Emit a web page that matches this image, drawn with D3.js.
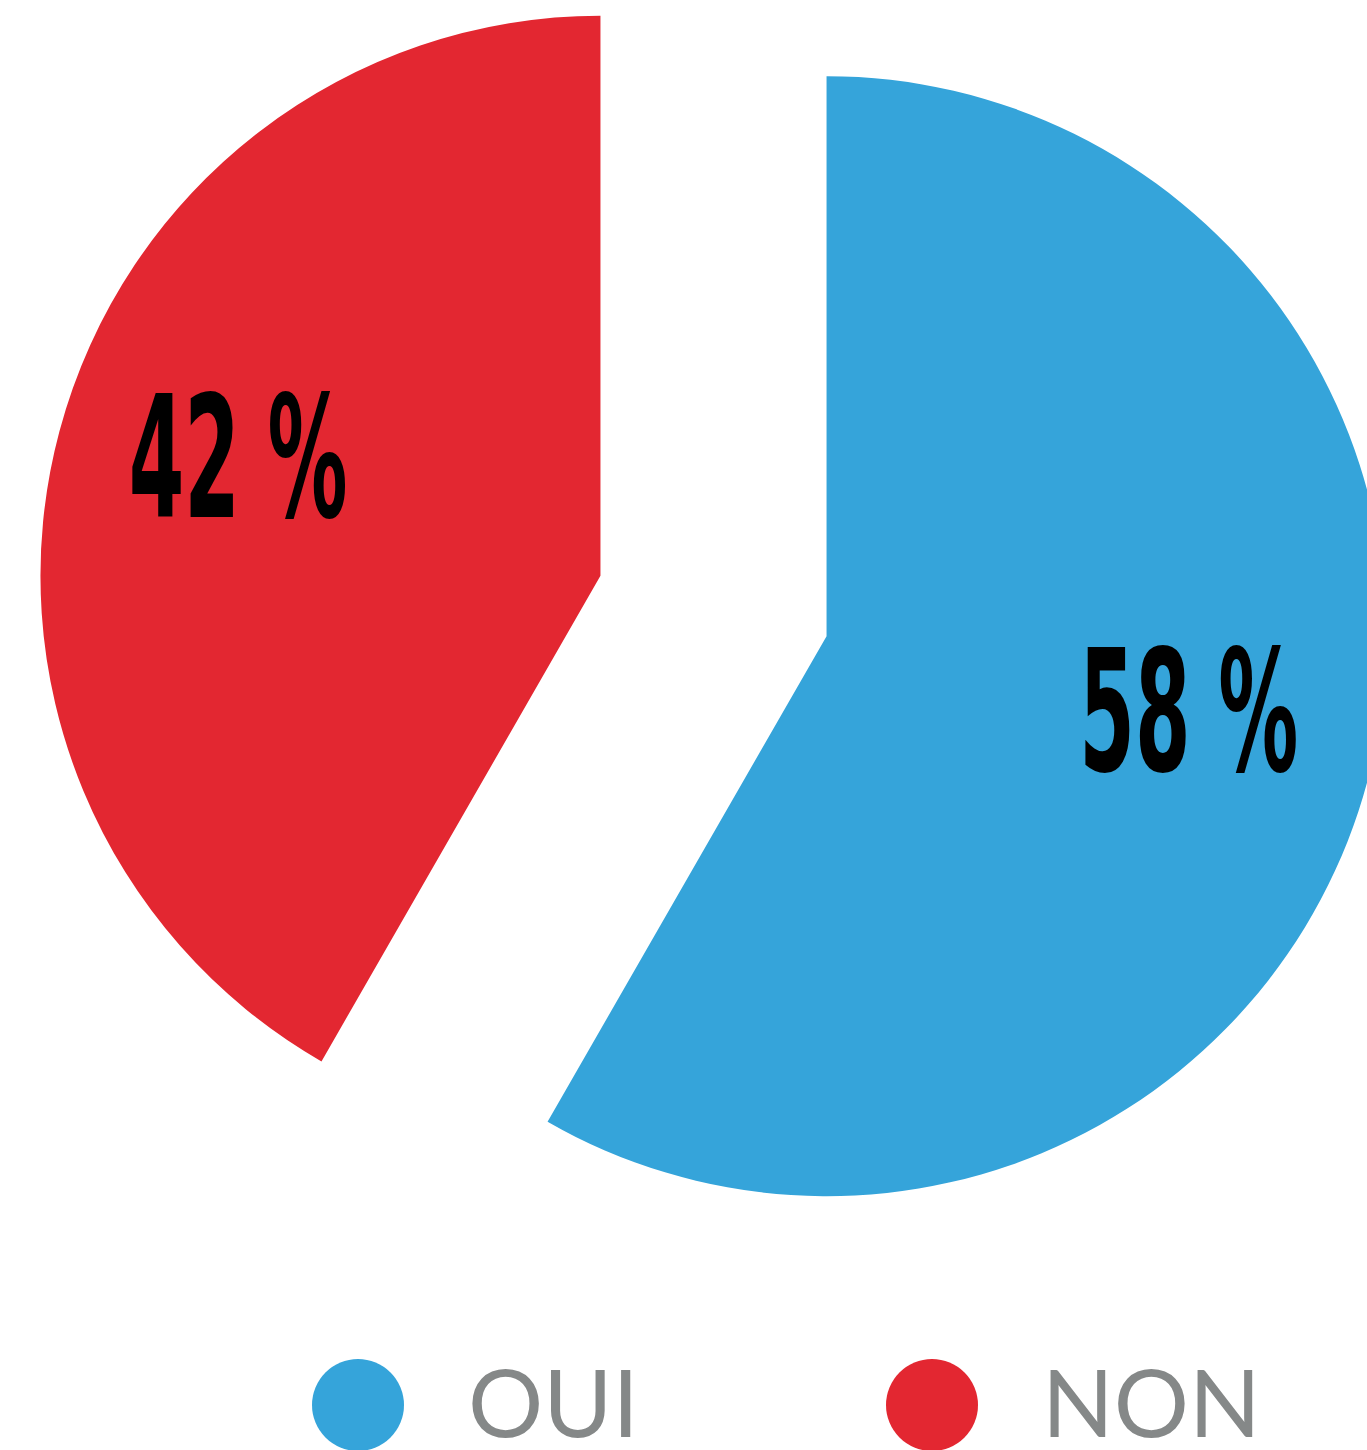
<!DOCTYPE html>
<html>
<head>
<meta charset="utf-8">
<script src="https://cdn.jsdelivr.net/npm/d3@7"></script>
<style>
  body { margin: 0; background: #fff; }
  .label { font-family: "DejaVu Sans Condensed", "Liberation Sans Narrow", sans-serif; font-weight: bold; }
  .legend text { font-family: Lato, "Open Sans", sans-serif; fill: #858888; }
</style>
</head>
<body>
<div class="container"></div>
<script>
var categories = ['OUI', 'NON'];
var values = [58.3, 41.7];
var colors = ['#35a4da', '#e32731'];

const WIDTH = 1367;
const HEIGHT = 1450;
const CX = 713.5;
const CY = 606;
const RADIUS = 560;
const EXPLODE = 117;

var translate = (x, y) => (`translate(${x}, ${y})`);

var svg = d3.select('.container').append('svg')
    .attr('width', WIDTH)
    .attr('height', HEIGHT);

var pie = d3.pie().sort(null).value(d => d);
var arcs = pie(values);

var arc = d3.arc().innerRadius(0).outerRadius(RADIUS);
var labelArc = d3.arc().innerRadius(375).outerRadius(375);

var offset = function (d) {
    let a = (d.startAngle + d.endAngle) / 2;
    return [EXPLODE * Math.sin(a), -EXPLODE * Math.cos(a)];
};

var g = svg.append('g')
    .attr('transform', translate(CX, CY));

var slices = g.selectAll('g.slice')
    .data(arcs)
    .enter().append('g')
    .attr('class', 'slice')
    .attr('transform', d => translate(offset(d)[0], offset(d)[1]));

slices.append('path')
    .attr('d', arc)
    .attr('fill', (d, i) => colors[i]);

slices.append('text')
    .attr('class', 'label')
    .attr('x', d => labelArc.centroid(d)[0])
    .attr('y', d => labelArc.centroid(d)[1] + 38)
    .attr('text-anchor', 'middle')
    .attr('font-size', 170)
    .attr('textLength', 219)
    .attr('lengthAdjust', 'spacingAndGlyphs')
    .attr('fill', '#000')
    .text(d => Math.round(d.data) + ' %');

var legendX = d3.scalePoint()
    .domain(categories)
    .range([358, 932]);

var legend = svg.append('g')
    .attr('class', 'legend')
    .selectAll('g')
    .data(categories)
    .enter().append('g')
    .attr('transform', d => translate(legendX(d), 1405));

legend.append('circle')
    .attr('r', 46)
    .attr('fill', (d, i) => colors[i]);

legend.append('text')
    .attr('x', 110)
    .attr('y', 32)
    .attr('font-size', 94)
    .text(d => d);
</script>
</body>
</html>
